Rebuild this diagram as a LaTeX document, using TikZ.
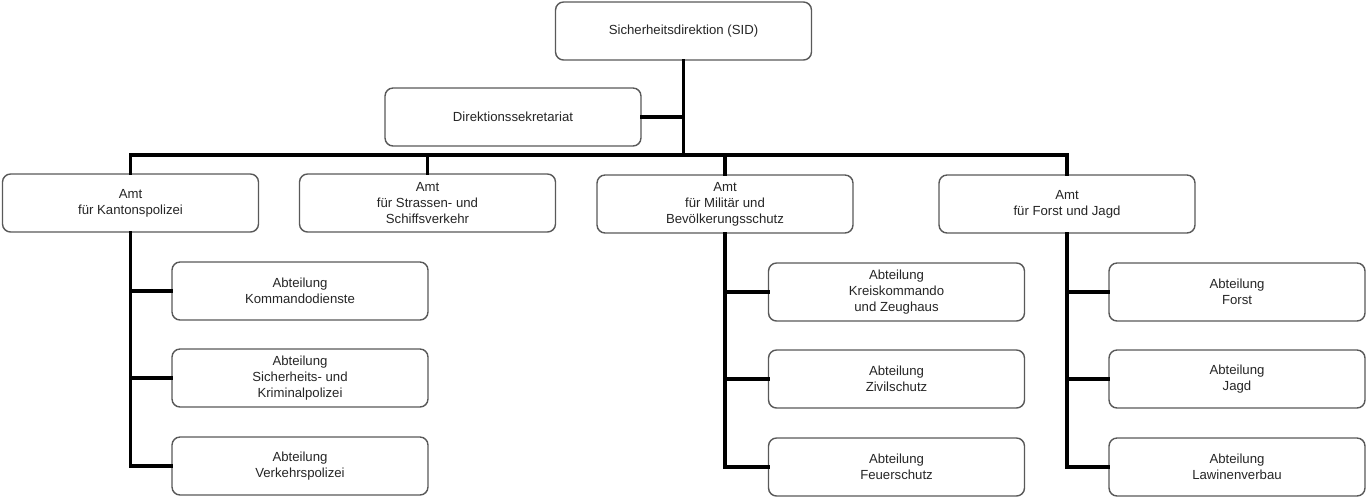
\documentclass[tikz,border=0pt]{standalone}
\usepackage{fontspec}
\setmainfont{Liberation Sans}
\usepackage{tikz}
\usetikzlibrary{positioning}

\tikzset{
	einheit/.style={draw=black!65, line width=0.8pt, rounded corners=0.16cm, fill=white,
		minimum width=5.12cm, minimum height=1.16cm, align=center, inner sep=0pt,
		text=black!85, font=\fontsize{7.5}{9.2}\selectfont},
	linie/.style={line width=2.2pt, black, line cap=rect}
}

\begin{document}
\begin{tikzpicture}[x=0.02cm, y=-0.02cm]
		\useasboundingbox (0,0) rectangle (1366,498);
		\node[einheit] (sid)         at (683.5,31)  {Sicherheitsdirektion (SID)};
		\node[einheit] (sekretariat) at (513,117)   {Direktionssekretariat};
		\node[einheit] (kapo)        at (130.5,203) {Amt\\für Kantonspolizei};
		\node[einheit] (strassen)    at (427.5,203) {Amt\\für Strassen- und\\Schiffsverkehr};
		\node[einheit] (militaer)    at (725,204)   {Amt\\für Militär und\\Bevölkerungsschutz};
		\node[einheit] (forst-jagd)  at (1067,204)  {Amt\\für Forst und Jagd};
		\node[einheit] (kommando)    at (300,291)   {Abteilung\\Kommandodienste};
		\node[einheit] (kripo)       at (300,378)   {Abteilung\\Sicherheits- und\\Kriminalpolizei};
		\node[einheit] (verkehr)     at (300,466)   {Abteilung\\Verkehrspolizei};
		\node[einheit] (kreis)       at (896.5,292) {Abteilung\\Kreiskommando\\und Zeughaus};
		\node[einheit] (zivil)       at (896.5,379) {Abteilung\\Zivilschutz};
		\node[einheit] (feuer)       at (896.5,467) {Abteilung\\Feuerschutz};
		\node[einheit] (forst)       at (1237,292)  {Abteilung\\Forst};
		\node[einheit] (jagd)        at (1237,379)  {Abteilung\\Jagd};
		\node[einheit] (lawinen)     at (1237,467)  {Abteilung\\Lawinenverbau};
		\coordinate (bus) at (683.5,155);
		% Direktion
		\draw[linie] (sid.south) -- (bus);
		\draw[linie] (sekretariat.east) -- (sekretariat.east -| sid.south);
		\draw[linie] (kapo.north) |- (bus) -| (forst-jagd.north);
		\draw[linie] (strassen.north) -- (strassen.north |- bus);
		\draw[linie] (militaer.north) -- (militaer.north |- bus);
		% Abteilungen
		\draw[linie] (kapo.south) |- (verkehr.west);
		\draw[linie] (kapo.south |- kommando.west) -- (kommando.west);
		\draw[linie] (kapo.south |- kripo.west) -- (kripo.west);
		\draw[linie] (militaer.south) |- (feuer.west);
		\draw[linie] (militaer.south |- kreis.west) -- (kreis.west);
		\draw[linie] (militaer.south |- zivil.west) -- (zivil.west);
		\draw[linie] (forst-jagd.south) |- (lawinen.west);
		\draw[linie] (forst-jagd.south |- forst.west) -- (forst.west);
		\draw[linie] (forst-jagd.south |- jagd.west) -- (jagd.west);
	\end{tikzpicture}
\end{document}
